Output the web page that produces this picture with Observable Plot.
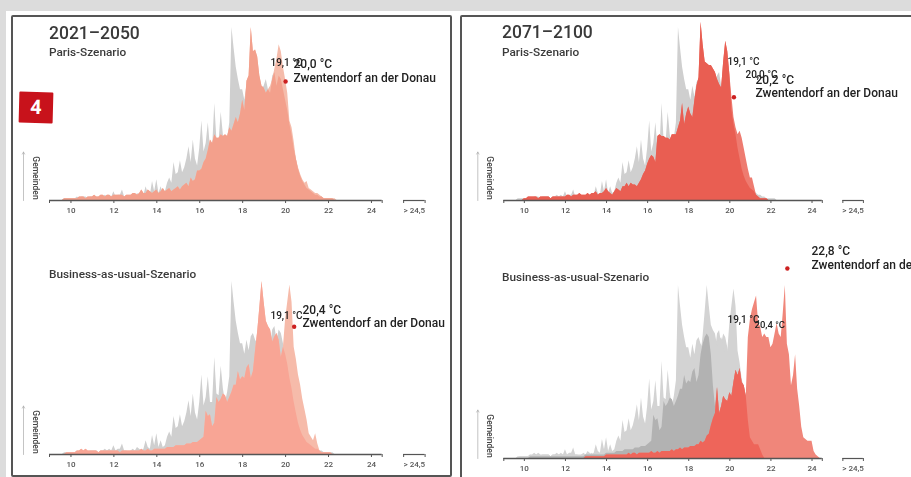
<!DOCTYPE html>
<html lang="de">
<head>
<meta charset="utf-8">
<title>Zwentendorf an der Donau</title>
<script src="https://cdn.jsdelivr.net/npm/d3@7"></script>
<script src="https://cdn.jsdelivr.net/npm/@observablehq/plot@0.6"></script>
<style>
  html,body{margin:0;padding:0;width:911px;height:477px;overflow:hidden;background:#dcdcdc;font-family:Roboto,sans-serif}
  #sheet{position:absolute;left:6px;top:11px;width:905px;height:466px;background:#fff}
  .frame{position:absolute;border:2px solid #555;box-sizing:border-box;border-radius:2px}
  .t{position:absolute;color:#3a3a3a;white-space:nowrap;filter:blur(.4px)}
  .big{font-size:17.5px;font-weight:500;line-height:20px}
  .sub{font-size:11.8px;font-weight:500;line-height:12px}
  #badge{position:absolute;left:19px;top:92px;width:34px;height:31px;background:#c8121b;color:#fff;font-weight:700;font-size:20px;line-height:31px;text-align:center;transform:rotate(1.5deg);border-radius:1px}
  svg.pl{position:absolute;filter:blur(.45px);overflow:hidden}
</style>
</head>
<body>
<div id="sheet"></div>
<div class="frame" style="left:11px;top:15px;width:441px;height:462px"></div>
<div class="frame" style="left:460px;top:15px;width:460px;height:470px"></div>
<div class="t big" style="left:49px;top:23px">2021–2050</div>
<div class="t sub" style="left:49px;top:46px">Paris-Szenario</div>
<div class="t sub" style="left:49px;top:268px">Business-as-usual-Szenario</div>
<div class="t big" style="left:502px;top:22px">2071–2100</div>
<div class="t sub" style="left:502px;top:46px">Paris-Szenario</div>
<div class="t sub" style="left:502px;top:271px">Business-as-usual-Szenario</div>
<div id="badge">4</div>
<script>
// Temperature bins (°C), 0.1 steps from 9.5
const temps = d3.range(95, 250).map(t => t / 10);

// Frequency (relative number of municipalities) per bin, rows by whole degree
const grey1961 = [0,0,1,1,1,
 1,1,1,2,1,2,2,2,1,2,
 2,2,2,1,2,2,3,2,3,2,
 5,2,3,3,6,2,2,1,2,3,
 2,4,3,2,3,8,4,3,11,5,
 12,4,8,4,5,10,13,10,22,15,
 16,23,16,19,24,31,22,35,24,20,
 30,46,28,33,45,30,30,56,35,34,
 51,38,30,36,45,100,88,77,70,64,
 64,58,66,60,68,70,66,64,62,64,
 66,70,64,62,72,74,66,72,70,64,
 58,52,44,38,30,24,18,14,11,9,
 7,6,5,4,3,3,2,2,1,1,
 1,1,1,0,0];
const paris2021 = [0,0,1,1,1,
 1,1,1,1,2,2,2,1,2,2,
 2,3,2,2,3,3,2,3,3,2,
 3,3,3,3,3,2,3,3,3,4,
 4,3,4,6,4,4,6,5,4,5,
 6,4,5,7,5,6,7,5,6,7,
 8,6,8,9,10,8,13,11,12,17,
 17,18,22,24,29,35,33,38,36,36,
 38,37,38,37,42,40,44,48,45,50,
 58,52,69,72,100,86,87,83,72,66,
 65,62,64,66,70,76,82,90,86,77,
 70,62,46,42,34,24,19,15,12,10,
 11,7,6,5,4,4,3,2,1,1,
 1,1,1,1,0];
const bau2021 = [0,0,0,1,1,
 1,1,1,2,2,3,2,3,2,2,
 2,2,2,1,2,2,2,2,2,2,
 2,2,2,1,2,2,2,2,2,2,
 2,2,2,3,2,2,3,2,2,3,
 3,3,3,3,3,4,4,4,4,5,
 5,5,5,5,6,6,6,7,7,7,
 8,9,10,25,22,23,16,18,33,30,
 32,35,34,30,33,36,40,40,48,43,
 45,44,50,52,44,48,60,71,85,100,
 88,77,74,72,65,68,70,66,56,62,
 78,88,98,88,62,55,46,40,32,26,
 20,12,10,8,12,6,2,1,1,1,
 1,1,0,0,0];
const paris2071 = [0,0,0,0,0,
 1,1,2,2,2,2,2,1,2,2,
 2,2,2,1,2,2,2,2,2,2,
 2,3,3,2,3,3,3,4,3,3,
 3,4,3,4,4,5,3,4,4,5,
 7,5,4,3,5,7,6,5,8,8,
 10,8,10,9,9,8,10,12,15,17,
 21,24,26,25,22,37,38,37,37,36,
 36,35,38,38,38,42,46,56,44,50,
 54,50,48,58,66,71,103,90,80,79,
 78,78,76,74,70,67,65,80,92,86,
 73,60,48,42,38,40,36,30,24,18,
 13,13,8,3,2,1,1,1,1,0];
const bau2071 = [0,0,0,0,0,
 0,0,0,0,0,0,0,0,0,0,
 0,0,0,0,0,0,0,0,0,0,
 0,0,0,0,0,0,0,0,0,0,
 1,1,1,1,1,1,1,1,1,1,
 2,2,2,2,2,2,2,2,2,2,
 2,3,2,3,3,2,3,3,3,3,
 3,3,4,3,3,4,3,4,4,4,
 4,4,5,4,5,5,6,5,6,6,
 6,7,7,7,8,8,10,9,10,13,
 14,19,23,26,41,26,30,36,34,33,
 38,36,44,51,48,52,44,42,36,70,
 80,86,90,94,78,76,70,72,70,70,
 64,66,72,78,72,70,84,100,66,60,
 42,48,60,40,30,18,12,11,10,10,
 10,4,2,1,0];
// Darker overlap band in the last panel
const overlap2071 = [0,0,0,0,0,
 0,0,0,1,1,1,1,1,1,1,
 1,1,1,1,1,1,1,1,1,1,
 1,1,1,1,1,1,1,1,1,1,
 2,2,2,2,2,2,2,2,2,2,
 3,3,3,3,3,4,4,4,4,5,
 5,5,5,5,6,6,6,7,7,7,
 8,9,10,25,22,23,16,18,33,30,
 32,35,34,30,33,36,40,40,48,43,
 45,44,50,52,44,48,60,66,70,72,
 70,60,42,30,41,26,30,36,34,33,
 38,36,44,51,48,52,44,42,36,22,
 12,10,8,8,8,5,2,0,0,0];

const tickValues = [10,12,14,16,18,20,22,24];
const axisEnds = [9,24.5,25.5,26.5];
const overflowLabel = "> 24,5";
const place = "Zwentendorf an der Donau";

const fontFamily = "Roboto, sans-serif";
const lower = (a, b) => temps.map((_, i) => Math.min(a[i] ?? 0, b[i] ?? 0));
const val = a => temps.map((_, i) => a[i] ?? 0);
// Darker part of a red series: all of it below the cut temperature, only the overlap with grey above it
const core = (red, cut) => temps.map((t, i) => t < cut ? (red[i] ?? 0) : Math.min(red[i] ?? 0, grey1961[i] ?? 0));

function panel({left, width, baseline, x9, x265, layers, marks}) {
  const mh = 190.3, head = 40;
  const plot = Plot.plot({
    width, height: 270,
    marginTop: head + 200 - mh, marginBottom: 30,
    marginLeft: x9 - left, marginRight: width - (x265 - left),
    x: {domain: [9, 26.5], axis: null},
    y: {domain: [0, 110], axis: null},
    style: {background: "transparent", fontFamily},
    marks: [
      ...layers.map(([v, fill]) => Plot.areaY(val(v), {x: temps, y: val(v), fill})),
      Plot.ruleY([0], {x1: 9, x2: 24.5, stroke: "#555", strokeWidth: 1.4}),
      Plot.ruleY([0], {x1: 25.5, x2: 26.5, stroke: "#555", strokeWidth: 1.2}),
      Plot.axisX({ticks: axisEnds, tickSize: 3, tickFormat: () => "", stroke: "#555"}),
      Plot.axisX({ticks: tickValues, tickSize: 3, tickPadding: 4, fontSize: 8, fontWeight: 500, stroke: "#555", color: "#555", tickFormat: d3.format("d"), label: null}),
      Plot.axisX({ticks: [26], tickSize: 0, tickPadding: 7, fontSize: 8, fontWeight: 500, color: "#555", tickFormat: () => overflowLabel, label: null}),
      Plot.arrow([0], {x1: 9, x2: 9, y1: 0, y2: 28, dx: -26, stroke: "#aaa", strokeWidth: .7, headLength: 5, bend: 0}),
      Plot.text(["Gemeinden"], {x: 9, y: 13, dx: -14, rotate: 90, fontSize: 8.5, fontWeight: 500, fill: "#444"}),
      ...marks.map(m => m.dot
        ? Plot.dot([0], {x: m.t, y: m.v, r: 2.2, fill: "#cc2020"})
        : Plot.text([m.text], {x: m.t, y: m.v, text: d => d, textAnchor: "start", fontSize: m.size, fontWeight: m.weight ?? 500, fill: m.fill ?? "#222"}))
    ]
  });
  plot.classList.add("pl");
  plot.style.left = left + "px";
  plot.style.top = (baseline - 200 - head) + "px";
  document.body.appendChild(plot);
}

const L = {left: 13, width: 437, x9: 49, x265: 424.6};
const R = {left: 463, width: 448, x9: 503.3, x265: 862.9};
const yv = (baseline, py) => (baseline - py) * 110 / 190.3;
const xv = (o, px) => 9 + (px - o.x9) * 17.5 / (o.x265 - o.x9);

function labels(o, baseline, dot, items) {
  return [{dot: true, t: dot[0], v: yv(baseline, dot[1])},
    ...items.map(([text, px, py, size, weight]) => ({text, t: xv(o, px), v: yv(baseline, py), size, weight}))];
}

panel({...L, baseline: 200,
  layers: [[grey1961, "#cfcfcf"], [paris2021, "#f5bcab"], [core(paris2021, 19.0), "#f3a08c"]],
  marks: labels(L, 200, [20.0, 81], [["19,1 °C", 270, 62, 10], ["20,0 °C", 293, 64, 12], [place, 293, 78, 12]])});
panel({...L, baseline: 453.7,
  layers: [[grey1961, "#cfcfcf"], [bau2021, "#f6bbaa"], [core(bau2021, 19.9), "#f8a595"]],
  marks: labels(L, 453.7, [20.4, 326], [["19,1 °C", 270, 315, 10], ["20,4 °C", 302, 309, 12], [place, 302, 322.7, 12]])});
panel({...R, baseline: 200,
  layers: [[grey1961, "#cfcfcf"], [paris2071, "#ee7b70"], [core(paris2071, 20.1), "#e95e52"]],
  marks: labels(R, 200, [20.2, 96.7], [["19,1 °C", 727, 61, 10], ["20,0 °C", 745, 74, 10], ["20,2 °C", 755, 80, 12], [place, 755, 93, 12]])});
panel({...R, baseline: 457.7,
  layers: [[grey1961, "#d3d3d3"], [bau2021, "#d3d3d3"], [overlap2071, "#b2b2b2"], [bau2071, "#f0867a"], [lower(bau2071, overlap2071), "#ee655a"]],
  marks: labels(R, 457.7, [22.8, 267.7], [["19,1 °C", 727, 319, 10], ["20,4 °C", 754, 324, 9.5], ["22,8 °C", 811, 250, 12], [place, 811, 264, 12]])});
</script>
</body>
</html>
